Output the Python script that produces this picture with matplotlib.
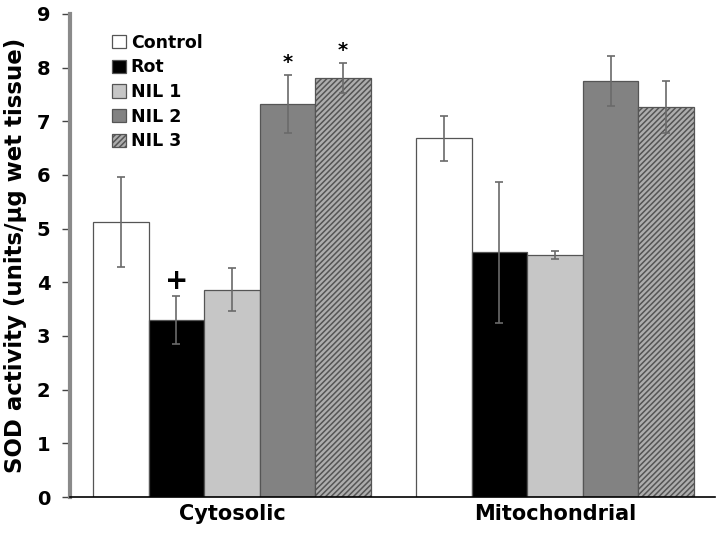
import matplotlib.pyplot as plt
import numpy as np

plt.rcParams['font.family'] = ['DejaVu Sans']
plt.rcParams['font.weight'] = 'bold'
plt.rcParams['hatch.color'] = '#f2f2f2'
plt.rcParams['hatch.linewidth'] = 1.1

groups = ["Cytosolic", "Mitochondrial"]
series = ["Control", "Rot", "NIL 1", "NIL 2", "NIL 3"]
means = {
    "Control": [5.13, 6.68],
    "Rot":     [3.30, 4.56],
    "NIL 1":   [3.86, 4.51],
    "NIL 2":   [7.33, 7.75],
    "NIL 3":   [7.81, 7.27],
}
errs = {
    "Control": [0.84, 0.42],
    "Rot":     [0.45, 1.31],
    "NIL 1":   [0.40, 0.07],
    "NIL 2":   [0.54, 0.47],
    "NIL 3":   [0.28, 0.48],
}
marks = [("Rot", 0, "+"), ("NIL 2", 0, "*"), ("NIL 3", 0, "*")]
yticks = list(range(10))

faces  = {"Control": "white", "Rot": "black", "NIL 1": "#c6c6c6",
          "NIL 2": "#828282", "NIL 3": "#adadad"}
hatch  = {"NIL 3": "//////"}

fig = plt.figure(figsize=(7.2, 5.33), dpi=100)
ax = fig.add_axes([0.097, 0.0675, 0.896, 0.9065])

w = 0.172
x = np.arange(len(groups))
for i, s in enumerate(series):
    pos = x + (i - 2) * w
    ax.bar(pos, means[s], w, color=faces[s], edgecolor="#555555", linewidth=0.9,
           hatch=hatch.get(s), label=s, zorder=2)
    ax.errorbar(pos, means[s], yerr=errs[s], fmt="none", ecolor="#6a6a6a",
                elinewidth=1.2, capsize=3, capthick=1.2, zorder=3)

for s, g, sym in marks:
    i = series.index(s)
    top = means[s][g] + errs[s][g]
    sz = 20 if sym == "+" else 14
    off = 0.02 if sym == "+" else 0.05
    ax.text(x[g] + (i - 2) * w, top + off, sym, ha="center", va="bottom",
            fontsize=sz, fontweight="bold")

ax.set_xlim(-0.502, 1.495)
ax.set_ylim(0, 9)
ax.set_yticks(yticks)
ax.set_xticks(x)
ax.set_xticklabels(groups, fontsize=15, fontweight="bold")
ax.tick_params(axis="x", length=0, pad=5)
ax.tick_params(axis="y", labelsize=14, length=6, width=1, color="#444444", pad=8)
ax.set_ylabel("SOD activity (units/\u00b5g wet tissue)", fontsize=16.5,
              fontweight="bold", labelpad=7)

for side in ["top", "right"]:
    ax.spines[side].set_visible(False)
ax.spines["left"].set_color("#8a8a8a")
ax.spines["left"].set_linewidth(3)
ax.spines["bottom"].set_color("black")
ax.spines["bottom"].set_linewidth(1.2)

leg = ax.legend(loc="upper left", bbox_to_anchor=(0.054, 0.973), frameon=False,
                fontsize=12.5, handlelength=0.8, handleheight=0.8,
                handletextpad=0.3, labelspacing=0.38, borderaxespad=0)
for t in leg.get_texts():
    t.set_fontweight("bold")

fig.savefig("out.png", dpi=100)
